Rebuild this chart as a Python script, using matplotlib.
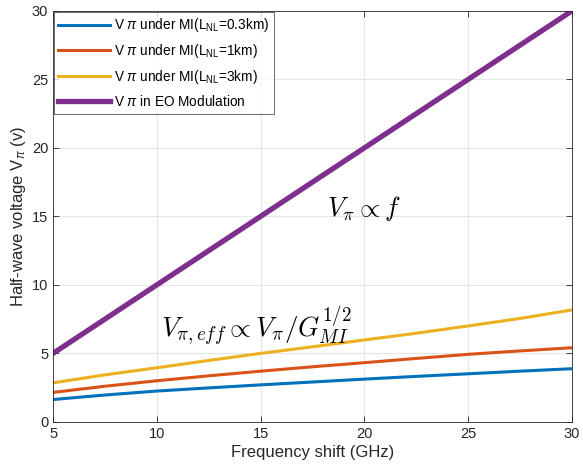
import matplotlib.pyplot as plt
import numpy as np

plt.rcParams['font.family'] = ['Liberation Sans', 'DejaVu Sans']
plt.rcParams['mathtext.fontset'] = 'custom'
plt.rcParams['mathtext.rm'] = 'Liberation Sans'
plt.rcParams['mathtext.it'] = 'Liberation Sans:italic'

# data
freq = [5, 7.5, 10, 12.5, 15, 17.5, 20, 22.5, 25, 27.5, 30]
v_eo = [5, 7.5, 10, 12.5, 15, 17.5, 20, 22.5, 25, 27.5, 30]
v_03km = [1.63, 1.96, 2.25, 2.48, 2.70, 2.91, 3.12, 3.32, 3.51, 3.70, 3.88]
v_1km = [2.15, 2.60, 3.00, 3.36, 3.70, 4.02, 4.32, 4.63, 4.93, 5.18, 5.41]
v_3km = [2.85, 3.43, 3.95, 4.48, 5.00, 5.48, 5.98, 6.47, 7.00, 7.55, 8.17]

labels = [r'V $\pi$ under MI(L$_{\rm NL}$=0.3km)',
          r'V $\pi$ under MI(L$_{\rm NL}$=1km)',
          r'V $\pi$ under MI(L$_{\rm NL}$=3km)',
          r'V $\pi$ in EO Modulation']
colors = ['#0072BD', '#D95319', '#EDB120', '#7E2F8E']

fig = plt.figure(figsize=(5.83, 4.74), dpi=100)
ax = fig.add_axes([0.091, 0.110, 0.890, 0.867])

ax.plot(freq, v_03km, color=colors[0], lw=2.2, label=labels[0])
ax.plot(freq, v_1km, color=colors[1], lw=2.2, label=labels[1])
ax.plot(freq, v_3km, color=colors[2], lw=2.2, label=labels[2])
ax.plot(freq, v_eo, color=colors[3], lw=3.8, label=labels[3])

ax.set_xlim(5, 30)
ax.set_ylim(0, 30)
ax.set_xticks([5, 10, 15, 20, 25, 30])
ax.set_yticks([0, 5, 10, 15, 20, 25, 30])
ax.tick_params(direction='in', top=True, right=True, labelsize=10.5, length=4,
               colors='#262626', width=0.6)
for s in ax.spines.values():
    s.set_color('#262626')
    s.set_linewidth(0.6)
ax.grid(True, color='#e6e6e6', lw=0.8)
ax.set_axisbelow(True)

ax.set_xlabel('Frequency shift (GHz)', fontsize=12, color='#262626', labelpad=3)
ax.set_ylabel(r'Half-wave voltage V$_\pi$ (v)', fontsize=12, color='#262626', labelpad=3)

ax.text(20, 15.6, r'$V_\pi \propto f$', fontsize=19, math_fontfamily='cm',
        ha='center', va='center')
ax.text(10.2, 6.2, r'$V_{\pi,eff} \propto V_\pi/G_{MI}^{1/2}$', fontsize=19.5,
        math_fontfamily='cm', ha='left', va='baseline')

leg = ax.legend(loc='upper left', fontsize=9.8, frameon=True, fancybox=False,
                edgecolor='#262626', borderaxespad=0.05, handlelength=3.8,
                labelspacing=0.58, borderpad=0.35, handletextpad=0.3)
leg.get_frame().set_linewidth(0.6)

fig.savefig('out.png', dpi=100)
